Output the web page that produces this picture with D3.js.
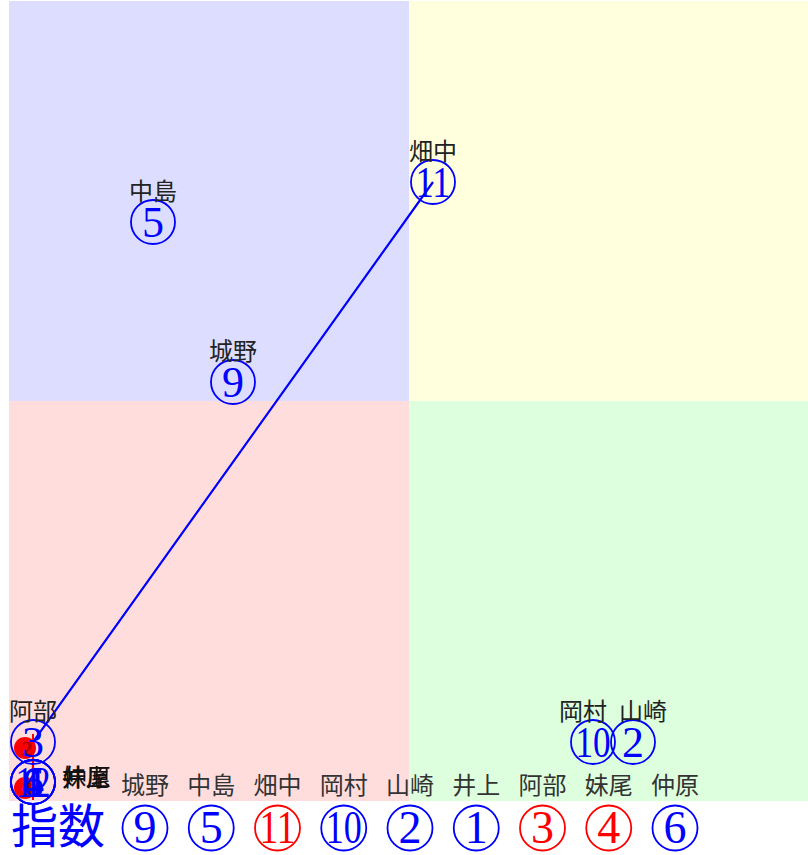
<!DOCTYPE html>
<html><head><meta charset="utf-8">
<script src="https://cdn.jsdelivr.net/npm/d3@7"></script>
<style>body{margin:0;background:#fff}svg{display:block}</style>
</head><body>
<svg id="c" width="808" height="855"></svg>
<script>
// ---- data ----
const names = ["畑中","中島","城野","岡村","山崎","阿部","井上","妹尾","仲原","—"];
const nums  = [11, 5, 9, 10, 2, 3, 1, 4, 6, 12];
const xVals = [10, 3, 5, 14, 15, 0, 0, 0, 0, 0];
const yVals = [15, 14, 10, 1, 1, 1, 0, 0, 0, 0];
const labelSide = ["top","top","top","top","top","top","right","right","right","none"];
const redMarkX = [0, 0];
const redMarkY = [1, 0];
const redMarkNum = ["2", "3"];
const blueLine = [[10, 15], [0, 1], [0, 0]];
const redLine = [[0, 1.2], [0, -0.45]];
const rankNames = ["城野","中島","畑中","岡村","山崎","井上","阿部","妹尾","仲原"];
const rankNums  = [9, 5, 11, 10, 2, 1, 3, 4, 6];
const rankRed   = [false, false, true, false, false, false, true, true, false];
const rankTitle = "指数";
const xDomain = [-0.6, 19.375];
const yDomain = [-0.475, 19.525];
const splitX = 9.4, splitY = 9.525;

const svg = d3.select("#c");
const x = d3.scaleLinear().domain(xDomain).range([9, 808]);
const y = d3.scaleLinear().domain(yDomain).range([801, 1]);

// quadrants
const quads = [
  {x0: xDomain[0], x1: splitX, y0: splitY, y1: yDomain[1], c: "#ddddff"},
  {x0: splitX, x1: xDomain[1], y0: splitY, y1: yDomain[1], c: "#ffffdd"},
  {x0: xDomain[0], x1: splitX, y0: yDomain[0], y1: splitY, c: "#ffdddd"},
  {x0: splitX, x1: xDomain[1], y0: yDomain[0], y1: splitY, c: "#ddffdd"}
];
svg.selectAll("rect.q").data(quads).join("rect")
  .attr("x", d => x(d.x0)).attr("y", d => y(d.y1))
  .attr("width", d => x(d.x1) - x(d.x0)).attr("height", d => y(d.y0) - y(d.y1))
  .attr("fill", d => d.c);

const serif = "'Liberation Serif','DejaVu Serif',serif";
const cjk = "'Noto Sans CJK JP','Noto Sans CJK SC',sans-serif";

function circled(g, cx, cy, n, color, r, fs) {
  g.append("circle").attr("cx", cx).attr("cy", cy).attr("r", r)
    .attr("fill", "none").attr("stroke", color).attr("stroke-width", 1.8);
  const t = g.append("text").attr("x", cx).attr("y", cy + fs * 0.33)
    .attr("text-anchor", "middle").attr("fill", color)
    .attr("font-family", serif).attr("font-size", fs).text(n);
  if (String(n).length > 1) t.attr("textLength", r * 1.6).attr("lengthAdjust", "spacingAndGlyphs");
}

// red markers
const rm = svg.append("g");
redMarkX.forEach((v, i) => {
  const cx = x(v) - 8, cy = y(redMarkY[i]) + 6;
  rm.append("circle").attr("cx", cx).attr("cy", cy).attr("r", 11).attr("fill", "#ff0000");
  rm.append("text").attr("x", cx + 2).attr("y", cy + 8).attr("text-anchor", "middle")
    .attr("fill", "#b00000").attr("font-family", serif).attr("font-weight", "bold")
    .attr("font-size", 22).text(redMarkNum[i]);
});

// lines
const line = d3.line().x(d => x(d[0])).y(d => y(d[1]));
svg.append("path").attr("d", line(blueLine)).attr("fill", "none")
  .attr("stroke", "#0000ff").attr("stroke-width", 2.2);
svg.append("path").attr("d", line(redLine)).attr("fill", "none")
  .attr("stroke", "#ff0000").attr("stroke-width", 2);

// label positions with simple collision spreading for top labels
const labW = 50;
const labels = names.map((nm, i) => ({i, nm, px: x(xVals[i]), py: y(yVals[i]), lx: x(xVals[i])}));
const tops = labels.filter(d => labelSide[d.i] === "top").sort((a, b) => a.py - b.py || a.px - b.px);
for (let k = 0; k < tops.length; k++) {
  for (let j = k + 1; j < tops.length; j++) {
    const a = tops[k], b = tops[j];
    if (Math.abs(a.py - b.py) < 20 && Math.abs(a.lx - b.lx) < labW + 10) {
      const need = (labW + 10 - Math.abs(a.lx - b.lx)) / 2;
      if (a.lx <= b.lx) { a.lx -= need; b.lx += need; } else { a.lx += need; b.lx -= need; }
    }
  }
}

// points
const pg = svg.append("g");
labels.forEach(d => {
  const i = d.i, cx = d.px, cy = d.py;
  circled(pg, cx, cy, nums[i], "#0000ff", 22, 44);
  if (labelSide[i] === "top") {
    pg.append("text").attr("x", d.lx).attr("y", cy - 22)
      .attr("text-anchor", "middle").attr("fill", "#222")
      .attr("font-family", cjk).attr("font-size", 24).text(d.nm);
  } else if (labelSide[i] === "right") {
    pg.append("text").attr("x", cx + 25 + i * 0.6).attr("y", cy + 4)
      .attr("fill", "#111").attr("font-family", cjk).attr("font-size", 24).text(d.nm);
  }
});

// ranking row
const rx = d3.scalePoint().domain(rankNames).range([145, 675]);
svg.append("text").attr("x", 11).attr("y", 843).attr("fill", "#0000ff")
  .attr("font-family", cjk).attr("font-size", 47).text(rankTitle);
const rg = svg.append("g");
rankNames.forEach((nm, i) => {
  const cx = rx(nm);
  rg.append("text").attr("x", cx).attr("y", 794).attr("text-anchor", "middle")
    .attr("fill", "#333").attr("font-family", cjk).attr("font-size", 24).text(nm);
  circled(rg, cx, 828, rankNums[i], rankRed[i] ? "#ff0000" : "#0000ff", 22.5, 46);
});
</script>
</body></html>
